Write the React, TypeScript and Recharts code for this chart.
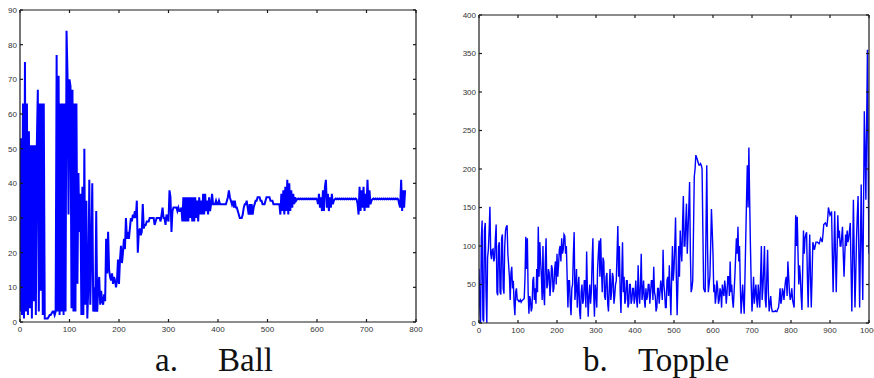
import { LineChart, Line, XAxis, YAxis } from 'recharts';

// sample every 2 frames
const ballStep = 2;
const ballValues = [
  3, 53, 2, 63, 1, 75, 3, 63, 2, 55,
  4, 51, 1, 51, 6, 51, 2, 51, 67, 3,
  63, 9, 63, 2, 63, 1, 1, 1, 1, 1.5,
  2, 2, 2.5, 3, 3, 2, 3, 77, 3, 71,
  2, 63, 3, 63, 2, 63, 3, 84, 71, 31,
  70, 68, 4, 67, 3, 63, 3, 63, 11, 43,
  26, 37, 2, 39, 2, 50, 5, 35, 1, 10,
  41, 5, 20, 40, 3, 10, 3, 32, 3, 10,
  13, 5, 9, 6, 5, 8, 6, 24, 14, 26,
  15, 13, 12, 14, 11, 13, 12, 10, 12, 18,
  11, 18, 22, 17, 20, 24, 21, 30, 24, 26,
  24, 27, 30, 29, 31, 30, 32, 30, 35, 20,
  26, 27, 25, 26, 34, 27, 28, 28, 29, 29,
  29, 30, 30, 30, 30, 30, 28, 29, 30, 30,
  30, 30, 29, 31, 33, 30, 30, 28, 31, 30,
  29, 38, 36, 26, 32, 33, 33, 33, 33, 32,
  33, 32, 32, 33, 29, 36, 29, 36, 29, 36,
  29, 36, 30, 36, 29, 36, 29, 36, 30, 35,
  29, 36, 31, 35, 31, 37, 31, 37, 32, 35,
  31, 36, 32, 34, 37, 34, 34, 34, 35, 34,
  34, 35, 34, 34, 34, 34, 34, 34, 34, 35,
  36, 38, 36, 35, 34, 35, 33, 35, 33, 33,
  32, 31, 30, 30, 30, 31, 33, 34, 34, 35,
  33, 31, 34, 31, 34, 31, 33, 34, 35, 35,
  36, 36, 36, 35, 35, 34, 34, 34, 35, 36,
  36, 36, 36, 35, 35, 35, 34, 34, 34, 34,
  34, 34, 34, 31, 37, 32, 38, 31, 39, 32,
  41, 31, 40, 32, 38, 33, 37, 34, 36, 35,
  35.4, 35.6, 35.4, 35.6, 35.4, 35.6, 35.4, 35.6, 35.4, 35.6,
  35.4, 35.6, 35.4, 35.6, 35.4, 35.6, 35.4, 35.6, 35.4, 35.6,
  35.4, 34, 37, 33, 36, 32, 38, 32, 39, 41,
  33, 37, 32, 36, 33, 37, 34, 35, 35.4, 35.6,
  35.4, 35.6, 35.4, 35.6, 35.4, 35.6, 35.4, 35.6, 35.4, 35.6,
  35.4, 35.6, 35.4, 35.6, 35.4, 35.6, 35.4, 35.6, 35.4, 35.6,
  35.4, 34, 31, 39, 32, 38, 33, 39, 32, 37,
  33, 41, 33, 38, 34, 35, 35.4, 35.6, 35.4, 35.6,
  35.4, 35.6, 35.4, 35.6, 35.4, 35.6, 35.4, 35.6, 35.4, 35.6,
  35.4, 35.6, 35.4, 35.6, 35.4, 35.6, 35.4, 35.6, 35.4, 35.6,
  35.4, 35.6, 35.4, 34, 33, 41, 32, 38, 33, 38,
];

const toppleStep = 2;
const toppleValues = [
  70, 20, 0, 110, 133, 5, 2, 120, 130, 40, 0, 85, 95, 120, 151, 90, 83, 95, 96, 80,
  85, 110, 128, 40, 36, 100, 105, 40, 37, 110, 115, 45, 38, 100, 120, 125, 127, 90, 75, 60,
  30, 65, 73, 45, 55, 25, 10, 40, 45, 30, 30, 28, 28, 30, 27, 29, 30, 31, 32, 60,
  112, 70, 110, 40, 12, 35, 30, 15, 20, 55, 60, 30, 45, 25, 70, 40, 125, 60, 105, 80,
  60, 30, 100, 40, 23, 80, 110, 45, 50, 70, 65, 35, 50, 75, 70, 40, 45, 70, 80, 50,
  90, 60, 75, 95, 100, 80, 110, 90, 95, 115, 113, 90, 100, 60, 20, 55, 55, 25, 10, 45,
  50, 90, 118, 30, 45, 70, 20, 45, 60, 15, 5, 40, 50, 25, 30, 55, 55, 20, 93, 40,
  8, 35, 50, 25, 40, 80, 110, 40, 8, 50, 40, 20, 70, 90, 107, 60, 110, 70, 40, 85,
  80, 35, 30, 60, 65, 25, 15, 45, 70, 30, 40, 65, 60, 25, 35, 50, 55, 90, 126, 60,
  100, 40, 13, 60, 105, 40, 60, 25, 30, 55, 55, 20, 25, 50, 50, 25, 30, 45, 45, 25,
  35, 55, 30, 20, 75, 40, 25, 50, 90, 30, 40, 55, 30, 20, 45, 30, 35, 50, 50, 25,
  40, 55, 55, 30, 73, 40, 35, 15, 20, 45, 45, 25, 40, 55, 45, 30, 95, 50, 40, 20,
  20, 55, 60, 35, 75, 40, 10, 60, 100, 55, 70, 100, 137, 60, 10, 50, 100, 60, 120, 95,
  80, 130, 165, 100, 100, 130, 155, 90, 120, 150, 183, 90, 40, 45, 55, 120, 190, 200, 218, 215,
  212, 208, 205, 205, 207, 205, 200, 120, 45, 42, 40, 120, 205, 100, 40, 50, 60, 100, 148, 120,
  90, 40, 50, 25, 35, 55, 45, 25, 30, 45, 40, 20, 50, 40, 35, 55, 45, 25, 40, 60,
  60, 35, 80, 40, 50, 30, 20, 40, 60, 85, 110, 90, 125, 80, 100, 50, 12, 30, 50, 30,
  12, 60, 110, 160, 205, 150, 228, 160, 100, 50, 15, 35, 60, 25, 40, 50, 30, 20, 50, 35,
  20, 60, 100, 30, 45, 70, 100, 30, 20, 60, 95, 40, 15, 25, 35, 20, 15, 15, 15, 15,
  16, 15, 15, 18, 20, 30, 45, 25, 30, 45, 40, 30, 45, 55, 60, 35, 80, 60, 40, 30,
  35, 45, 30, 25, 20, 80, 140, 100, 138, 90, 50, 75, 60, 35, 17, 70, 120, 90, 110, 115,
  118, 60, 20, 70, 115, 60, 20, 60, 105, 100, 95, 100, 105, 105, 105, 104, 103, 106, 110, 108,
  105, 115, 128, 129, 130, 128, 125, 135, 150, 145, 140, 142, 145, 90, 40, 90, 145, 90, 40, 90,
  140, 110, 120, 100, 100, 112, 125, 90, 60, 90, 115, 100, 120, 105, 110, 120, 130, 70, 15, 80,
  160, 90, 20, 60, 110, 140, 165, 90, 20, 100, 180, 100, 30, 150, 275, 220, 160, 260, 355, 200,
  90,
];

const ballXTicks = [0, 100, 200, 300, 400, 500, 600, 700, 800];
const ballYTicks = [0, 10, 20, 30, 40, 50, 60, 70, 80, 90];
const toppleXTicks = [0, 100, 200, 300, 400, 500, 600, 700, 800, 900, 1000];
const toppleYTicks = [0, 50, 100, 150, 200, 250, 300, 350, 400];

const ballData = ballValues.map((v, i) => ({ t: i * ballStep, v }));
const toppleData = toppleValues.map((v, i) => ({ t: i * toppleStep, v }));

const frameColor = '#1a1a1a';
const tickStyle = { fontSize: 8, fill: '#333', fontFamily: 'Liberation Sans, Arial, sans-serif' };
const noLabel = () => <g />;

// matlab-style box: labelled bottom/left axes, inward ticks on every side
function frame(xMax: number, xTicks: number[], yMax: number, yTicks: number[], xh: number, yw: number) {
  const line = { stroke: frameColor, strokeWidth: 1.2 };
  return [
    <XAxis key="xb" xAxisId="b" dataKey="t" type="number" domain={[0, xMax]} ticks={xTicks} interval={0}
      height={xh} tickSize={3} tickMargin={1} tickLine={false} axisLine={line} tick={tickStyle} allowDataOverflow />,
    <XAxis key="xbi" xAxisId="bi" dataKey="t" type="number" domain={[0, xMax]} ticks={xTicks} interval={0}
      height={xh} mirror tickSize={3} tickLine={line} axisLine={false} tick={noLabel} allowDataOverflow />,
    <XAxis key="xt" xAxisId="t" orientation="top" dataKey="t" type="number" domain={[0, xMax]} ticks={xTicks} interval={0}
      mirror tickSize={3} tickLine={line} axisLine={line} tick={noLabel} allowDataOverflow />,
    <YAxis key="yl" yAxisId="l" type="number" domain={[0, yMax]} ticks={yTicks} interval={0}
      width={yw} tickSize={3} tickMargin={0} tickLine={false} axisLine={line} tick={tickStyle} allowDataOverflow />,
    <YAxis key="yli" yAxisId="li" type="number" domain={[0, yMax]} ticks={yTicks} interval={0}
      width={yw} mirror tickSize={3} tickLine={line} axisLine={false} tick={noLabel} allowDataOverflow />,
    <YAxis key="yr" yAxisId="r" orientation="right" type="number" domain={[0, yMax]} ticks={yTicks} interval={0}
      mirror tickSize={3} tickLine={line} axisLine={line} tick={noLabel} allowDataOverflow />,
  ];
}

const captionFont = { fontFamily: 'Liberation Serif, Times New Roman, serif', fontSize: 33, fill: '#111' };

export default function App() {
  return (
    <div style={{ position: 'absolute', left: 0, top: 0, width: 874, height: 378, background: '#fff', overflow: 'hidden' }}>
      <div style={{ position: 'absolute', left: 0, top: 0 }}>
        <LineChart width={440} height={340} data={ballData} margin={{ top: 10, right: 24, bottom: 0, left: 0 }}>
          {frame(800, ballXTicks, 90, ballYTicks, 18, 20)}
          <Line xAxisId="b" yAxisId="l" dataKey="v" stroke="#0000ff" strokeWidth={2} dot={false}
            isAnimationActive={false} />
        </LineChart>
      </div>
      <div style={{ position: 'absolute', left: 440, top: 0 }}>
        <LineChart width={434} height={340} data={toppleData} margin={{ top: 15, right: 5, bottom: 0, left: 15 }}>
          {frame(1000, toppleXTicks, 400, toppleYTicks, 17, 24)}
          <Line xAxisId="b" yAxisId="l" dataKey="v" stroke="#0000ff" strokeWidth={1.4} dot={false}
            isAnimationActive={false} />
        </LineChart>
      </div>
      <svg width={874} height={378} style={{ position: 'absolute', left: 0, top: 0, pointerEvents: 'none' }}>
        <text x={155} y={371} {...captionFont}>a.</text>
        <text x={218} y={371} {...captionFont}>Ball</text>
        <text x={583} y={371} {...captionFont}>b.</text>
        <text x={638} y={371} {...captionFont}>Topple</text>
      </svg>
    </div>
  );
}
